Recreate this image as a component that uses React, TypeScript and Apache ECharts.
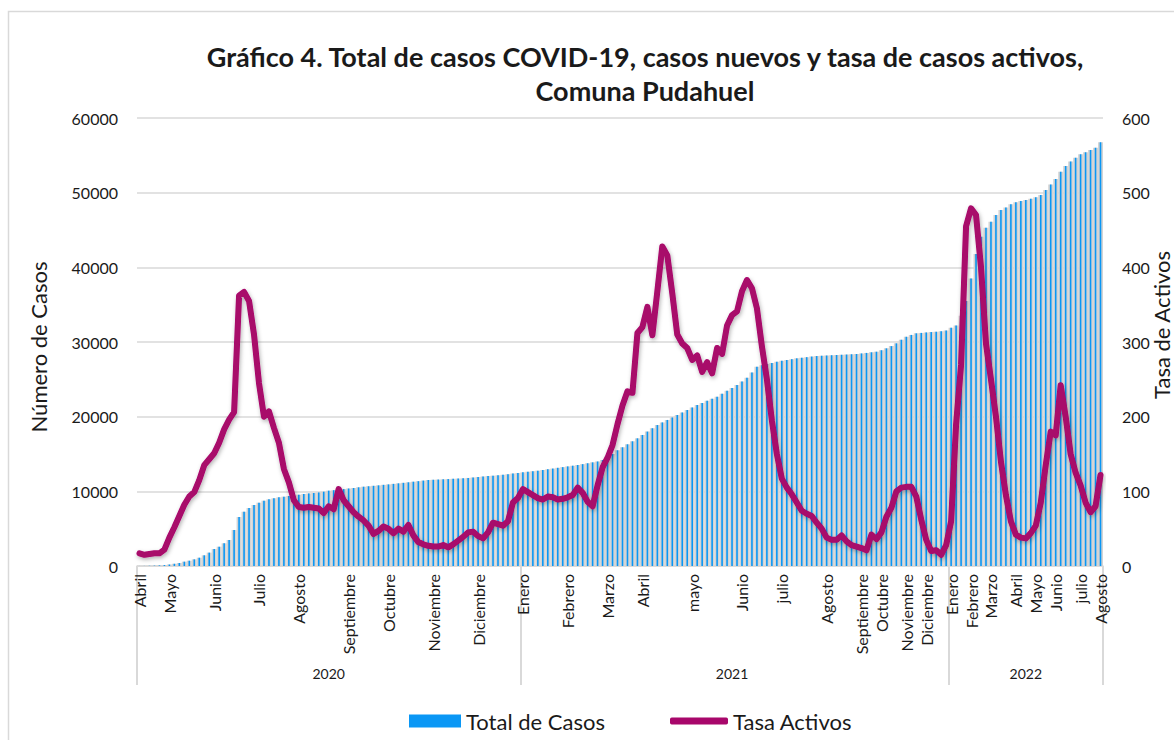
import React, { useEffect, useRef } from "react";
import * as echarts from "echarts";

const N = 194;

const monthNames = [
  "Abril", "Mayo", "Junio", "Julio", "Agosto", "Septiembre", "Octubre", "Noviembre", "Diciembre",
  "Enero", "Febrero", "Marzo", "Abril", "mayo", "Junio", "julio", "Agosto", "Septiembre", "Octubre", "Noviembre", "Diciembre",
  "Enero", "Febrero", "Marzo", "Abril", "Mayo", "Junio", "julio", "Agosto",
];
const monthStartIndex = [
  0, 6, 15, 24, 32, 42, 50, 59, 68,
  77, 86, 94, 101, 111, 121, 129, 138, 145, 149, 154, 158,
  163, 167, 171, 176, 180, 184, 189, 193,
];

const years = ["2020", "2021", "2022"];
const yearStartIndex = [0, 77, 163];
const yearLabelIndex = [38, 119, 178];

const totalCasos = [
  5, 15, 30, 50, 80, 130, 200, 300, 400, 580,
  710, 890, 1110, 1430, 1790, 2280, 2590, 3040, 3480, 4820,
  6560, 7270, 7770, 8170, 8480, 8750, 8930, 9070, 9200, 9290,
  9380, 9450, 9550, 9650, 9720, 9780, 9850, 9950, 10090, 10150,
  10230, 10300, 10380, 10450, 10540, 10620, 10680, 10740, 10800, 10870,
  10930, 11000, 11070, 11140, 11210, 11290, 11360, 11440, 11520, 11550,
  11580, 11610, 11640, 11680, 11710, 11740, 11800, 11860, 11920, 11990,
  12050, 12100, 12150, 12220, 12300, 12380, 12460, 12540, 12630, 12700,
  12770, 12860, 12960, 13050, 13150, 13240, 13340, 13430, 13530, 13640,
  13760, 13880, 14000, 14200, 14550, 15000, 15500, 15900, 16300, 16700,
  17100, 17550, 18000, 18450, 18880, 19230, 19560, 19890, 20220, 20560,
  20890, 21230, 21560, 21840, 22120, 22400, 22680, 23070, 23460, 23850,
  24240, 24700, 25200, 25900, 26690, 26900, 27050, 27200, 27360, 27480,
  27590, 27700, 27810, 27890, 27970, 28050, 28120, 28160, 28190, 28230,
  28260, 28290, 28320, 28360, 28390, 28470, 28540, 28620, 28700, 28900,
  29150, 29450, 29820, 30300, 30700, 30950, 31160, 31220, 31280, 31330,
  31380, 31450, 31550, 31900, 32200, 33500, 35500, 38500, 41800, 44100,
  45300, 46100, 47000, 47680, 48030, 48440, 48700, 48880, 49020, 49190,
  49370, 49690, 50360, 51110, 51830, 52810, 53570, 54190, 54680, 55130,
  55400, 55710, 56020, 56740,
];

const tasaActivos = [
  17, 15, 16, 17, 17, 22, 38, 52, 67, 82,
  93, 99, 115, 135, 143, 151, 165, 183, 196, 206,
  362, 367, 355, 310, 245, 200, 207, 185, 165, 130,
  112, 88, 79, 78, 79, 78, 77, 71, 80, 76,
  103, 88, 80, 72, 66, 61, 54, 43, 47, 53,
  50, 44, 50, 46, 55, 41, 32, 29, 27, 26,
  26, 28, 25, 29, 34, 39, 45, 46, 40, 37,
  45, 58, 56, 54, 60, 85, 91, 103, 99, 95,
  91, 89, 93, 92, 89, 90, 92, 95, 105, 98,
  86, 80, 108, 132, 145, 162, 190, 215, 234, 232,
  312, 320, 347, 309, 368, 428, 416, 365, 310, 298,
  292, 276, 282, 260, 273, 258, 292, 284, 322, 336,
  341, 368, 383, 372, 345, 294, 250, 195, 150, 117,
  105, 96, 85, 74, 70, 67, 58, 50, 38, 35,
  35, 41, 33, 28, 26, 24, 21, 42, 36, 45,
  66, 78, 100, 105, 106, 106, 93, 62, 35, 20,
  21, 15, 28, 60, 190, 270, 455, 479, 470, 400,
  298, 250, 200, 140, 95, 60, 42, 38, 37, 44,
  54, 85, 135, 180, 175, 242, 200, 150, 125, 108,
  85, 72, 80, 122,
];

const FONT = "Lato";
const TEXT = "#1a1a1a";
const GRID = "#d9d9d9";

export default function App() {
  const ref = useRef<HTMLDivElement>(null);

  useEffect(() => {
    if (!ref.current) return;
    const chart = echarts.init(ref.current, undefined, { renderer: "svg", width: 1174, height: 740 });

    const categories = Array.from({ length: N }, (_, i) => String(i));
    const monthLabelAt: Record<number, string> = {};
    monthStartIndex.forEach((idx, k) => (monthLabelAt[idx] = monthNames[k]));
    const yearLabelAt: Record<number, string> = {};
    yearLabelIndex.forEach((idx, k) => (yearLabelAt[idx] = years[k]));

    chart.setOption({
      animation: false,
      backgroundColor: "#ffffff",
      title: {
        text: "Gráfico 4. Total de casos COVID-19, casos nuevos y tasa de casos activos,\nComuna Pudahuel",
        left: 645,
        top: 39,
        padding: 0,
        textAlign: "center",
        textStyle: { fontFamily: FONT, fontSize: 27, fontWeight: "bold", color: TEXT, lineHeight: 34 },
      },
      graphic: [
        {
          type: "rect",
          silent: true,
          z: -10,
          shape: { x: 8.5, y: 11.5, width: 1300, height: 900 },
          style: { fill: "none", stroke: GRID, lineWidth: 1.5 },
        },
        {
          type: "text",
          silent: true,
          x: 1161,
          y: 325,
          rotation: Math.PI / 2,
          style: {
            text: "Tasa de Activos",
            fontFamily: FONT,
            fontSize: 22,
            fill: TEXT,
            align: "center",
            verticalAlign: "middle",
          },
        },
      ],
      legend: [
        {
          data: [{ name: "Total de Casos", icon: "rect" }],
          left: 409,
          top: 710,
          itemWidth: 52,
          itemHeight: 13,
          itemGap: 5,
          padding: 0,
          textStyle: { fontFamily: FONT, fontSize: 22, color: TEXT },
        },
        {
          data: [{ name: "Tasa Activos", icon: "roundRect" }],
          left: 670,
          top: 710,
          itemWidth: 58,
          itemHeight: 7,
          padding: 0,
          textStyle: { fontFamily: FONT, fontSize: 22, color: TEXT },
        },
      ],
      grid: {
        left: 137,
        top: 118,
        width: 966,
        height: 448,
        containLabel: false,
        outerBoundsMode: "none",
      },
      xAxis: [
        {
          type: "category",
          data: categories,
          boundaryGap: true,
          axisLine: { lineStyle: { color: GRID, width: 1.5 } },
          axisTick: {
            show: true,
            interval: (i: number) => yearStartIndex.includes(i),
            length: 119,
            lineStyle: { color: GRID, width: 2 },
          },
          axisLabel: {
            interval: 0,
            rotate: 90,
            margin: 8,
            fontFamily: FONT,
            fontSize: 16,
            color: TEXT,
            formatter: (_v: string, i: number) => monthLabelAt[i] || "",
          },
        },
        {
          type: "category",
          data: categories,
          position: "bottom",
          offset: 100,
          axisLine: { show: false },
          axisTick: { show: false },
          axisLabel: {
            interval: 0,
            margin: 0,
            fontFamily: FONT,
            fontSize: 14,
            color: TEXT,
            formatter: (_v: string, i: number) => yearLabelAt[i] || "",
          },
        },
        { type: "category", data: categories, show: false },
      ],
      yAxis: [
        {
          type: "value",
          min: 0,
          max: 60000,
          interval: 10000,
          name: "Número de Casos",
          nameLocation: "middle",
          nameGap: 88,
          nameRotate: 90,
          nameTextStyle: { fontFamily: FONT, fontSize: 22, color: TEXT, padding: [0, 10, 0, 0] },
          axisLine: { show: false },
          axisTick: { show: false },
          axisLabel: { margin: 19, fontFamily: FONT, fontSize: 16, color: TEXT, formatter: (v: number) => String(v) },
          splitLine: { lineStyle: { color: GRID, width: 1.5 } },
        },
        {
          type: "value",
          position: "right",
          min: 0,
          max: 600,
          interval: 100,
          axisLine: { show: false },
          axisTick: { show: false },
          axisLabel: { margin: 19, fontFamily: FONT, fontSize: 16, color: TEXT, formatter: (v: number) => String(v) },
          splitLine: { show: false },
        },
      ],
      series: [
        {
          name: "fondo",
          type: "bar",
          xAxisIndex: 2,
          yAxisIndex: 0,
          data: totalCasos,
          barWidth: "100%",
          silent: true,
          itemStyle: { color: "#d4d4d4" },
          z: 1,
        },
        {
          name: "Total de Casos",
          type: "bar",
          xAxisIndex: 0,
          yAxisIndex: 0,
          data: totalCasos,
          barWidth: 1.6,
          itemStyle: { color: "#0a97f5" },
          z: 2,
        },
        {
          name: "Tasa Activos",
          type: "line",
          xAxisIndex: 0,
          yAxisIndex: 1,
          data: tasaActivos,
          showSymbol: false,
          symbol: "none",
          lineStyle: {
            width: 6,
            color: "#a8076b",
            join: "round",
            cap: "round",
            shadowColor: "rgba(0,0,0,0.3)",
            shadowBlur: 4,
            shadowOffsetX: 1,
            shadowOffsetY: 2,
          },
          itemStyle: { color: "#a8076b" },
          z: 3,
        },
      ],
    });

    return () => chart.dispose();
  }, []);

  return (
    <div
      ref={ref}
      style={{ position: "fixed", left: 0, top: 0, width: 1174, height: 740, background: "#fff" }}
    />
  );
}
